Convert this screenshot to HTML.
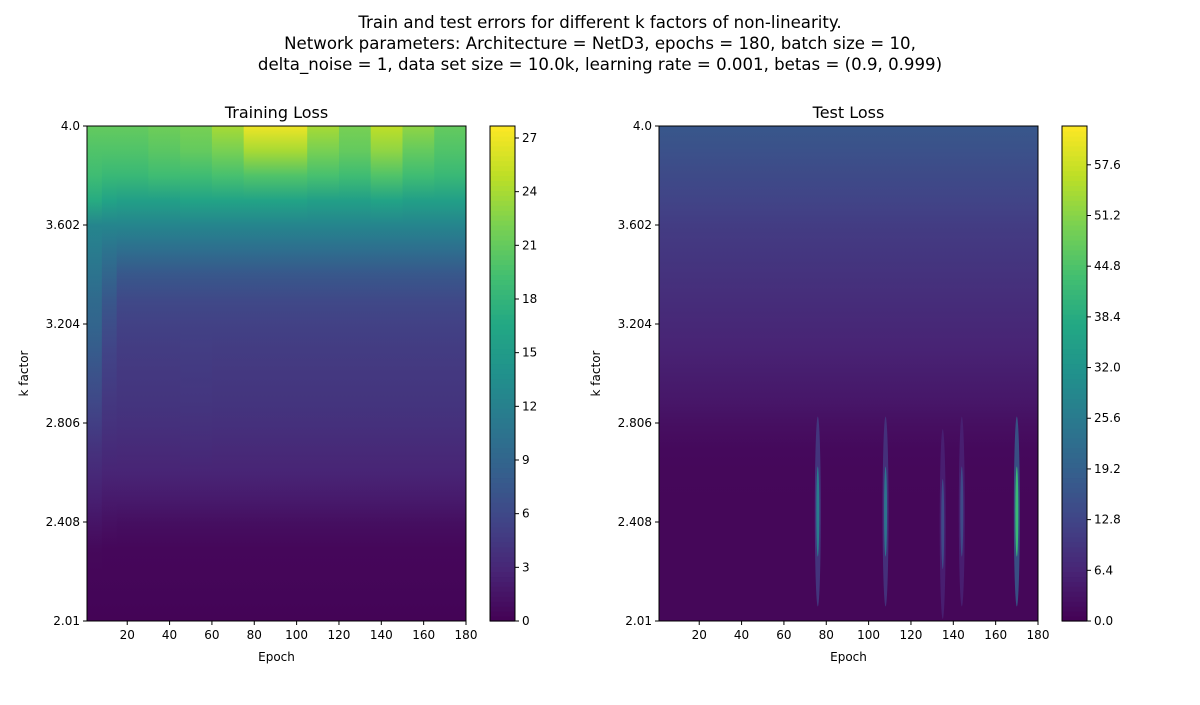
<!DOCTYPE html>
<html><head><meta charset="utf-8"><style>
body{margin:0;background:#fff;font-family:"Liberation Sans","DejaVu Sans",sans-serif}
svg text{font-family:"DejaVu Sans","Liberation Sans",sans-serif}
</style></head><body>
<svg id="fig" width="1200" height="700" viewBox="0 0 1200 700" xmlns="http://www.w3.org/2000/svg">
<text x="600" y="28" font-size="16.6" text-anchor="middle">Train and test errors for different k factors of non-linearity.</text>
<text x="600" y="49" font-size="16.6" text-anchor="middle">Network parameters: Architecture = NetD3,  epochs = 180, batch size = 10,</text>
<text x="600" y="70" font-size="16.6" text-anchor="middle">delta_noise = 1, data set size = 10.0k, learning rate = 0.001, betas = (0.9, 0.999)</text>
<defs id="defs"></defs>
</svg>
<script>
// ---- data ----
const kRows = [2.01,2.1,2.2,2.3,2.4,2.5,2.6,2.7,2.8,2.9,3.0,3.1,3.2,3.3,3.4,3.5,3.6,3.7,3.8,3.9,4.0];
const epochCols = [1,8,15,30,45,60,75,90,105,120,135,150,165,180];
const trainLoss = [
 [0.2,0.2,0.2,0.2,0.2,0.2,0.2,0.2,0.2,0.2,0.2,0.2,0.2],
 [0.3,0.3,0.3,0.3,0.3,0.3,0.3,0.3,0.3,0.3,0.3,0.3,0.3],
 [0.4,0.4,0.4,0.4,0.4,0.4,0.4,0.4,0.4,0.4,0.4,0.4,0.4],
 [0.6,0.5,0.5,0.5,0.5,0.5,0.5,0.5,0.5,0.5,0.5,0.5,0.5],
 [1.5,1.2,1.0,1.0,1.0,1.0,1.0,1.0,1.0,1.0,1.0,1.0,1.0],
 [2.4,2.0,2.0,2.0,2.0,2.0,2.0,2.0,2.0,2.0,2.0,2.0,2.0],
 [3.2,2.8,2.8,2.8,2.8,2.8,2.8,2.8,2.8,2.8,2.8,2.8,2.8],
 [4.0,3.4,3.3,3.3,3.4,3.3,3.3,3.3,3.3,3.3,3.3,3.3,3.3],
 [5.0,4.0,3.8,3.8,3.9,3.8,3.8,3.8,3.8,3.8,3.8,3.8,3.8],
 [6.0,4.5,4.2,4.2,4.3,4.2,4.2,4.2,4.2,4.2,4.2,4.2,4.2],
 [7.0,5.0,4.5,4.5,4.6,4.5,4.5,4.5,4.5,4.5,4.5,4.5,4.5],
 [8.0,5.5,4.8,4.8,4.9,4.8,4.8,4.8,4.8,4.8,4.8,4.8,4.8],
 [9.0,6.5,5.3,5.3,5.3,5.3,5.3,5.3,5.3,5.3,5.3,5.3,5.3],
 [9.5,7.5,6.0,6.0,6.0,6.0,6.0,6.0,6.0,6.0,6.0,6.0,6.0],
 [10.5,9.0,7.5,7.5,7.5,7.5,7.5,7.5,7.5,7.5,7.5,7.5,7.5],
 [11.5,10.5,10.0,10.0,10.0,10.0,10.0,10.0,10.0,10.0,10.0,10.0,10.0],
 [12.5,12.5,12.5,12.5,12.5,12.5,12.5,12.5,12.5,12.5,12.5,12.5,12.5],
 [17,16,15.5,15.5,16,16,16,16,15.5,15.5,16,15.5,15.5],
 [19,18.5,18.5,19,19,19.5,20,20,19.5,19,20,19,18.5],
 [20,20,20,20.5,21,22,24,24,22,21,23,21,20],
 [21,21,21,21.5,22,24,27,27,24,22,25,23,21]
];
const testLoss = [1,1,1,1,1,1,1.2,1.5,2.5,4,5,6,7,8,9,10,11,12.5,14,15.5,17];
const spikeEpochs = [76,108,135,144,170];
const spikePeaks = [26,24,14,14,42];
const spikeK = [2.45,2.45,2.4,2.45,2.45];
const trainTicks = [0,3,6,9,12,15,18,21,24,27];
const testTicks = [0,6.4,12.8,19.2,25.6,32.0,38.4,44.8,51.2,57.6];
const yTicks = [2.01,2.408,2.806,3.204,3.602,4.0];
const xTicks = [20,40,60,80,100,120,140,160,180];

const VIR=["#440154","#482475","#414487","#355f8d","#2a788e","#21918c","#22a884","#44bf70","#7ad151","#bddf26","#fde725"];
function hx(c){return [1,3,5].map(i=>parseInt(c.substr(i,2),16));}
function viridis(t){t=Math.max(0,Math.min(1,t));const p=t*10,i=Math.min(9,Math.floor(p)),f=p-i;const a=hx(VIR[i]),b=hx(VIR[i+1]);return `rgb(${a.map((v,j)=>Math.round(v+(b[j]-v)*f)).join(',')})`;}
const svg=document.getElementById('fig');const defs=document.getElementById('defs');const NS="http://www.w3.org/2000/svg";
function el(tag,at,parent){const e=document.createElementNS(NS,tag);for(const k in at)e.setAttribute(k,at[k]);(parent||svg).appendChild(e);return e;}
function txt(x,y,s,at,parent){const t=el('text',Object.assign({x:x,y:y,'font-size':12},at),parent);t.textContent=s;return t;}
let gid=0;
function vgrad(vals,vmax){const id='g'+(gid++);const lg=el('linearGradient',{id:id,x1:0,y1:1,x2:0,y2:0},defs);
  vals.forEach((v,i)=>el('stop',{offset:(kRows[i]-2.01)/(4.0-2.01),'stop-color':viridis(v/vmax)},lg));return id;}

function panel(x0,cbx,title,vmax,ticks,fmt,drawCells,nm){
  const y0=126,y1=621,x1=x0+379;
  const sx=e=>x0+(e-1)/179*(x1-x0);
  const sy=k=>y1-(k-2.01)/(4.0-2.01)*(y1-y0);
  const g=el('g',{});
  
  
  const cl=el('clipPath',{id:'c'+nm},g);el('rect',{x:x0,y:y0,width:x1-x0,height:y1-y0},cl);
  const cells=el('g',{'clip-path':'url(#c'+nm+')'},g);
  
  
  drawCells(cells,sx,sy,vmax);
  el('rect',{x:x0,y:y0,width:x1-x0,height:y1-y0,fill:'none',stroke:'#000','stroke-width':1},g);
  const tt=txt((x0+x1)/2,y0-8,title,{'font-size':16,'text-anchor':'middle'},g);
  
  
  xTicks.forEach(v=>{const X=sx(v);el('line',{x1:X,x2:X,y1:y1,y2:y1+4,stroke:'#000'},g);txt(X,y1+18,v,{'text-anchor':'middle'},g);});
  yTicks.forEach(v=>{const Y=sy(v);el('line',{x1:x0-4,x2:x0,y1:Y,y2:Y,stroke:'#000'},g);txt(x0-7,Y+4,v===4?'4.0':String(v),{'text-anchor':'end'},g);});
  const xl=txt((x0+x1)/2,y1+40,'Epoch',{'text-anchor':'middle'},g);
  
  
  const yl=txt(0,0,'k factor',{'text-anchor':'middle',transform:`translate(${x0-59},${(y0+y1)/2}) rotate(-90)`},g);
  
  
  const cb=el('g',{},g);
  
  
  const n=100;for(let i=0;i<n;i++){el('rect',{x:cbx,y:y1-(i+1)*(y1-y0)/n,width:25,height:(y1-y0)/n+0.6,fill:viridis((i+0.5)/n)},cb);}
  el('rect',{x:cbx,y:y0,width:25,height:y1-y0,fill:'none',stroke:'#000'},cb);
  ticks.forEach(v=>{const Y=y1-v/vmax*(y1-y0);el('line',{x1:cbx+25,x2:cbx+29,y1:Y,y2:Y,stroke:'#000'},cb);txt(cbx+32,Y+4,fmt(v),{},cb);});
}
panel(87,490,'Training Loss',27.67,trainTicks,v=>String(v),(g,sx,sy,vmax)=>{
  const nc=trainLoss[0].length;
  for(let c=0;c<nc;c++){
    const col=trainLoss.map(r=>r[c]);
    const id=vgrad(col,vmax);
    const xa=sx(epochCols[c]),xb=sx(epochCols[c+1]);
    const rc=el('rect',{x:xa,y:sy(4.0),width:xb-xa+0.6,height:sy(2.01)-sy(4.0),fill:`url(#${id})`},g);
    
    
  }
},'train');
panel(659,1062,'Test Loss',62.5,testTicks,v=>v.toFixed(1),(g,sx,sy,vmax)=>{
  const id=vgrad(testLoss,vmax);
  const rc=el('rect',{x:sx(1),y:sy(4.0),width:sx(180)-sx(1),height:sy(2.01)-sy(4.0),fill:`url(#${id})`},g);
  
  
  spikeEpochs.forEach((e,i)=>{
    const cx=sx(e),cy=sy(spikeK[i]);
    const sp=el('ellipse',{cx:cx,cy:cy,rx:3,ry:95,fill:viridis(spikePeaks[i]*0.45/vmax),opacity:0.8},g);
    
    
    const sp2=el('ellipse',{cx:cx,cy:cy,rx:1.5,ry:45,fill:viridis(spikePeaks[i]/vmax)},g);
    
    
  });
},'test');
</script>
</body></html>
